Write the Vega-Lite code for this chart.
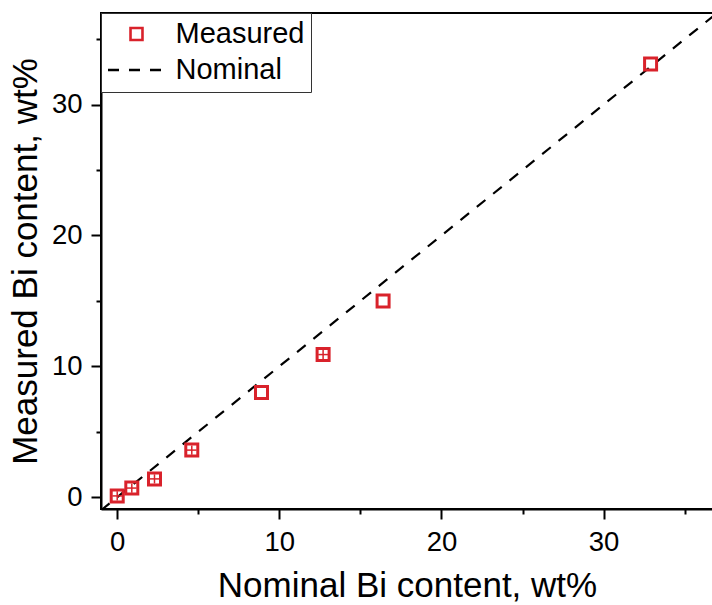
{
  "$schema": "https://vega.github.io/schema/vega-lite/v6.json",
  "width": 612,
  "height": 496,
  "autosize": "none",
  "padding": {"left": 101, "top": 13, "right": 0, "bottom": 96},
  "background": "white",
  "config": {
    "font": "Liberation Sans",
    "view": {"stroke": "black", "strokeWidth": 2},
    "axis": {
      "grid": false,
      "domainColor": "black",
      "domainWidth": 2,
      "tickColor": "black",
      "tickWidth": 2,
      "labelColor": "black",
      "labelFont": "Liberation Sans",
      "labelFontSize": 27.5,
      "labelPadding": 9,
      "labelOverlap": false,
      "labelFlush": false,
      "titleColor": "black",
      "titleFont": "Liberation Sans",
      "titleFontSize": 35,
      "titleFontWeight": "normal"
    },
    "legend": {
      "title": null,
      "orient": "top-left",
      "offset": 0,
      "padding": 6.5,
      "strokeColor": "#333333",
      "fillColor": "white",
      "rowPadding": 6,
      "symbolSize": 361,
      "symbolStrokeWidth": 2.6,
      "symbolFillColor": "transparent",
      "symbolOffset": 14.5,
      "labelOffset": 24.5,
      "labelFont": "Liberation Sans",
      "labelFontSize": 29,
      "labelColor": "black"
    }
  },
  "datasets": {
    "measured": [
      {"nominal": 0.0, "measured": 0.1, "series": "Measured", "xLo": -0.3, "xHi": 0.3, "yLo": -0.25, "yHi": 0.45},
      {"nominal": 0.9, "measured": 0.7, "series": "Measured", "xLo": 0.6, "xHi": 1.2, "yLo": 0.35, "yHi": 1.05},
      {"nominal": 2.3, "measured": 1.4, "series": "Measured", "xLo": 2.0, "xHi": 2.6, "yLo": 1.05, "yHi": 1.75},
      {"nominal": 4.6, "measured": 3.6, "series": "Measured", "xLo": 4.3, "xHi": 4.9, "yLo": 3.25, "yHi": 3.95},
      {"nominal": 8.9, "measured": 8.0, "series": "Measured", "xLo": null, "xHi": null, "yLo": null, "yHi": null},
      {"nominal": 12.7, "measured": 10.9, "series": "Measured", "xLo": 12.4, "xHi": 13.0, "yLo": 10.55, "yHi": 11.25},
      {"nominal": 16.4, "measured": 15.0, "series": "Measured", "xLo": null, "xHi": null, "yLo": null, "yHi": null},
      {"nominal": 32.9, "measured": 33.1, "series": "Measured", "xLo": null, "xHi": null, "yLo": null, "yHi": null}
    ],
    "nominal": [
      {"nominal": -1, "measured": -1, "series": "Nominal"},
      {"nominal": 38, "measured": 38, "series": "Nominal"}
    ]
  },
  "encoding": {
    "x": {
      "field": "nominal",
      "type": "quantitative",
      "scale": {"domain": [-1, 36.75], "nice": false, "zero": false},
      "axis": {
        "title": "Nominal Bi content, wt%",
        "titlePadding": 13,
        "values": [0, 5, 10, 15, 20, 25, 30, 35],
        "labelExpr": "datum.value % 10 === 0 ? datum.label : ''",
        "tickSize": {"condition": {"test": "datum.value % 10 === 0", "value": 10}, "value": 5}
      }
    },
    "y": {
      "field": "measured",
      "type": "quantitative",
      "scale": {"domain": [-0.9, 37.0], "nice": false, "zero": false},
      "axis": {
        "title": "Measured Bi content, wt%",
        "titlePadding": 8,
        "values": [0, 5, 10, 15, 20, 25, 30, 35],
        "labelExpr": "datum.value % 10 === 0 ? datum.label : ''",
        "tickSize": {"condition": {"test": "datum.value % 10 === 0", "value": 10}, "value": 5}
      }
    }
  },
  "layer": [
    {
      "data": {"name": "nominal"},
      "mark": {"type": "line", "strokeWidth": 2.2, "clip": true},
      "encoding": {
        "color": {
          "field": "series",
          "type": "nominal",
          "scale": {"domain": ["Measured", "Nominal"], "range": ["#d9222b", "black"]},
          "legend": {"title": null}
        },
        "strokeDash": {
          "field": "series",
          "type": "nominal",
          "scale": {"domain": ["Measured", "Nominal"], "range": [[1, 0], [11, 10]]},
          "legend": {"title": null}
        }
      }
    },
    {
      "data": {"name": "measured"},
      "transform": [{"filter": "isValid(datum.yLo)"}],
      "mark": {"type": "rule", "color": "#d9222b", "strokeWidth": 1.5},
      "encoding": {
        "y": {"field": "yLo", "type": "quantitative"},
        "y2": {"field": "yHi"}
      }
    },
    {
      "data": {"name": "measured"},
      "transform": [{"filter": "isValid(datum.xLo)"}],
      "mark": {"type": "rule", "color": "#d9222b", "strokeWidth": 1.5},
      "encoding": {
        "x": {"field": "xLo", "type": "quantitative"},
        "x2": {"field": "xHi"}
      }
    },
    {
      "data": {"name": "measured"},
      "mark": {"type": "point", "filled": false, "size": 363, "strokeWidth": 3, "opacity": 1},
      "encoding": {
        "color": {"field": "series", "type": "nominal"},
        "shape": {
          "field": "series",
          "type": "nominal",
          "scale": {"domain": ["Measured", "Nominal"], "range": ["M-0.63,-0.63H0.63V0.63H-0.63Z", "M-3,0H3"]},
          "legend": {"title": null}
        }
      }
    }
  ]
}
